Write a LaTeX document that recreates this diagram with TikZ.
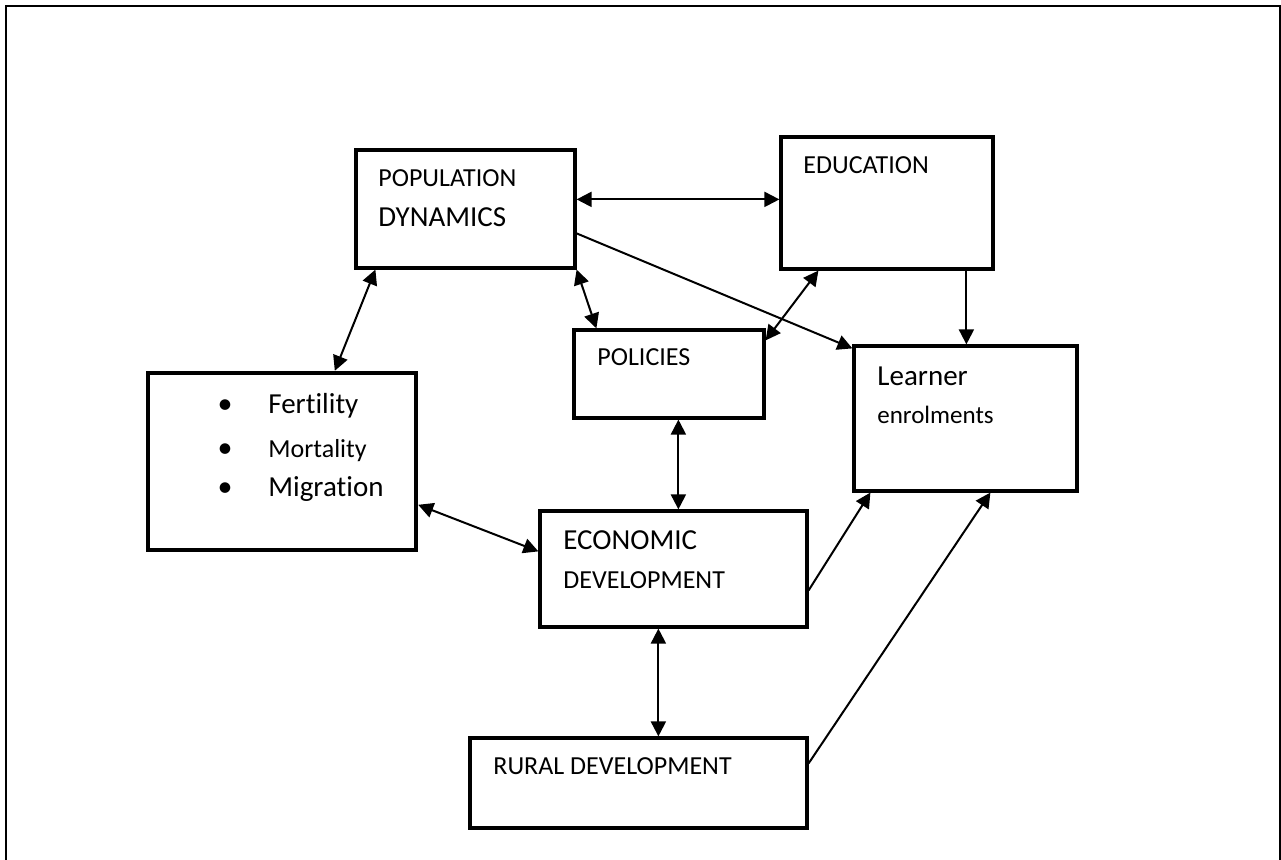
\documentclass[tikz,border=0pt]{standalone}
\usepackage{fontspec}
\setmainfont{Carlito}[Ligatures=NoCommon]
\usetikzlibrary{calc,arrows.meta}

\begin{document}
\begin{tikzpicture}[x=0.5pt, y=-0.5pt,
  box/.style={draw, line width=1.6pt, inner sep=0pt},
  txt/.style={anchor=base west, inner sep=0pt, font=\fontsize{13pt}{15pt}\selectfont},
  big/.style={txt, font=\fontsize{14.5pt}{17pt}\selectfont},
  bul/.style={anchor=base, inner sep=0pt, font=\fontsize{15pt}{17pt}\selectfont},
  arr/.style={-{Triangle[length=7.5pt,width=7.5pt]}, line width=1pt},
  dbl/.style={{Triangle[length=7.5pt,width=7.5pt]}-{Triangle[length=7.5pt,width=7.5pt]}, line width=1pt},
]
  \useasboundingbox (0,0) rectangle (1281,860);
  % page frame, open at the bottom
  \draw[line width=1.2pt] (6,860) -- (6,6) -- (1280,6) -- (1280,860);

  % boxes
  \node[box, minimum width=109.5pt, minimum height=59pt] (pop) at (465.5,209) {};
  \node[box, minimum width=106pt, minimum height=66pt] (edu) at (887,203) {};
  \node[box, minimum width=95pt, minimum height=44pt] (pol) at (669,374) {};
  \node[box, minimum width=111.5pt, minimum height=72.5pt] (lrn) at (965.5,418.5) {};
  \node[box, line width=2.2pt, minimum width=134pt, minimum height=88.5pt] (fact) at (282,461.5) {};
  \node[box, minimum width=133.5pt, minimum height=58pt] (eco) at (673.5,569) {};
  \node[box, minimum width=168.5pt, minimum height=45pt] (rur) at (638.5,783) {};

  % box texts
  \node[txt] (pop-a) at (378,187) {POPULATION};
  \node[big] (pop-b) at (378,227) {DYNAMICS};
  \node[txt] (edu-t) at (803,174) {EDUCATION};
  \node[txt] (pol-t) at (597,366) {POLICIES};
  \node[big] (lrn-a) at (877,386) {Learner};
  \node[txt, font=\fontsize{12.5pt}{15pt}\selectfont] (lrn-b) at (877,424) {enrolments};
  \node[bul] (b1) at (225,414) {\textbullet};
  \node[bul] (b2) at (225,458) {\textbullet};
  \node[bul] (b3) at (225,497) {\textbullet};
  \node[big] (fact-a) at (268,414) {Fertility};
  \node[txt] (fact-b) at (268,458) {Mortality};
  \node[big] (fact-c) at (268,497) {Migration};
  \node[big] (eco-a) at (563,550) {ECONOMIC};
  \node[txt] (eco-b) at (563,589) {DEVELOPMENT};
  \node[txt] (rur-t) at (493,775) {RURAL DEVELOPMENT};

  % links
  \draw[dbl] ($(pop.north east)+(0,51)$) -- ($(edu.north west)+(0,64)$);
  \draw[dbl] ($(pop.south west)+(21,0)$) -- ($(fact.north west)+(189,0)$);
  \draw[dbl] (pop.south east) -- ($(pol.north west)+(24,0)$);
  \draw[arr] ($(pop.north east)+(0,85)$) -- ($(lrn.north west)+(0,4)$);
  \draw[dbl] ($(edu.south west)+(39,0)$) -- ($(pol.north east)+(0,12)$);
  \draw[arr] ($(edu.south west)+(187,0)$) -- ($(lrn.north west)+(114,0)$);
  \draw[dbl] ($(pol.south west)+(106,0)$) -- ($(eco.north west)+(140,0)$);
  \draw[dbl] ($(fact.north east)+(0,134)$) -- ($(eco.north west)+(0,42)$);
  \draw[arr] ($(eco.north east)+(0,81)$) -- ($(lrn.south west)+(18,0)$);
  \draw[dbl] ($(eco.south west)+(120,0)$) -- ($(rur.north west)+(190,0)$);
  \draw[arr] ($(rur.north east)+(0,27)$) -- ($(lrn.south west)+(138,0)$);
\end{tikzpicture}
\end{document}
